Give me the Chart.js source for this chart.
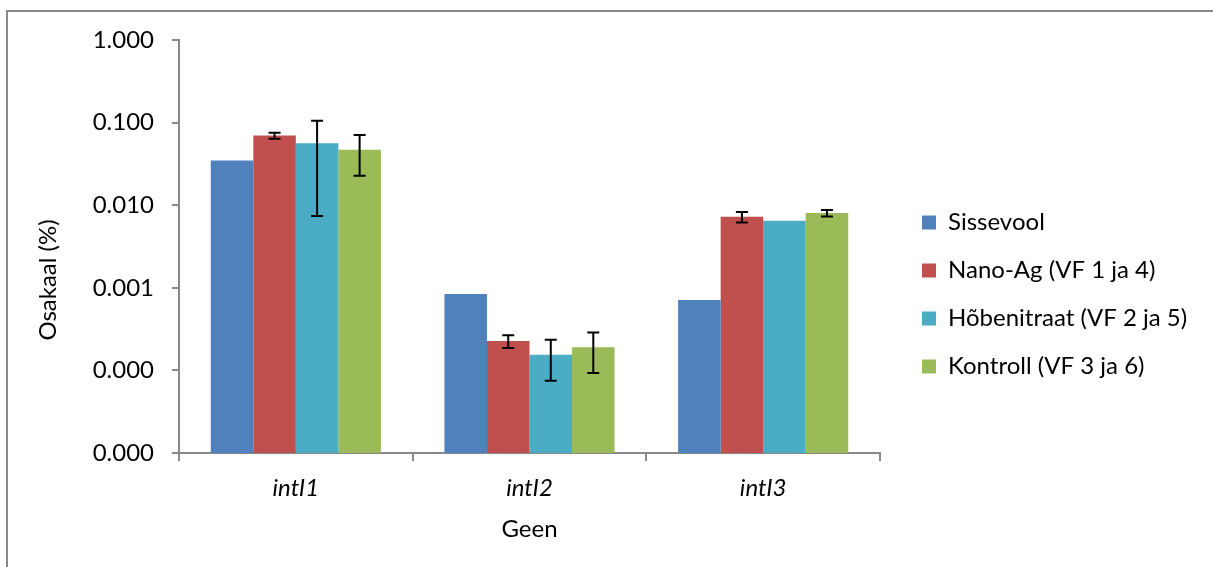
<!DOCTYPE html>
<html>
<head>
<meta charset="utf-8">
<script src="https://cdn.jsdelivr.net/npm/chart.js@4.4.1/dist/chart.umd.min.js"></script>
<style>
html,body{margin:0;padding:0;background:#fff;overflow:hidden;}
#wrap{position:relative;width:1213px;height:567px;overflow:hidden;}
#frame{position:absolute;left:6px;top:10px;width:1300px;height:700px;border-left:2px solid #898989;border-top:2px solid #898989;}
canvas{position:absolute;left:0;top:0;}
</style>
</head>
<body>
<div id="wrap"><div id="frame"></div><canvas id="chart" width="1213" height="567"></canvas></div>
<script>
// data (log scale)
const genes = ["intI1", "intI2", "intI3"];
const seriesNames = ["Sissevool", "Nano-Ag (VF 1 ja 4)", "Hõbenitraat (VF 2 ja 5)", "Kontroll (VF 3 ja 6)"];
const sissevool = [0.0347, 0.00084, 0.00071];
const nanoAg = [0.0696, 0.000227, 0.00724];
const hobenitraat = [0.0564, 0.000155, 0.00648];
const kontroll = [0.0468, 0.00019, 0.00802];
// +/- error
const sissevoolErr = [null, null, null];
const nanoAgErr = [0.0058, 0.00004, 0.00106];
const hobenitraatErr = [0.049, 0.00008, null];
const kontrollErr = [0.024, 0.000097, 0.0007];
const yTicks = [0.00001, 0.0001, 0.001, 0.01, 0.1, 1];
const yTickLabels = ["0.000", "0.000", "0.001", "0.010", "0.100", "1.000"];
const colors = ["#4F81BD", "#C0504D", "#4BACC6", "#9BBB59"];

const FONT = "Lato";
const SIZE = 24;
const AXIS = "#898989";

// error bars from each dataset's err array
const errorBars = {
    id: "errorBars",
    afterDatasetsDraw(chart){
        const ctx = chart.ctx, y = chart.scales.y;
        ctx.save();
        ctx.strokeStyle = "#000";
        ctx.lineWidth = 2;
        chart.data.datasets.forEach((ds, i)=>{
            chart.getDatasetMeta(i).data.forEach((bar, j)=>{
                const e = ds.err[j];
                if(!e) return;
                const v = ds.data[j];
                const top = y.getPixelForValue(v + e), bot = y.getPixelForValue(v - e);
                const x = bar.x;
                ctx.beginPath();
                ctx.moveTo(x, top); ctx.lineTo(x, bot);
                ctx.moveTo(x - 6, top); ctx.lineTo(x + 6, top);
                ctx.moveTo(x - 6, bot); ctx.lineTo(x + 6, bot);
                ctx.stroke();
            });
        });
        ctx.restore();
    }
};

// y axis title, placed like the original (not centred on the plot)
const yTitle = {
    id: "yTitle",
    afterDraw(chart){
        const ctx = chart.ctx;
        ctx.save();
        ctx.translate(48, 280);
        ctx.rotate(-Math.PI / 2);
        ctx.font = SIZE + "px " + FONT;
        ctx.fillStyle = "#000";
        ctx.textAlign = "center";
        ctx.textBaseline = "middle";
        ctx.fillText("Osakaal (%)", 0, 0);
        ctx.restore();
    }
};

function draw(){
    const series = [sissevool, nanoAg, hobenitraat, kontroll];
    const errs = [sissevoolErr, nanoAgErr, hobenitraatErr, kontrollErr];
    new Chart(document.getElementById("chart"), {
        type: "bar",
        data: {
            labels: genes,
            datasets: series.map((d, i)=>({label: seriesNames[i], data: d, err: errs[i], backgroundColor: colors[i], borderWidth: 0}))
        },
        options: {
            responsive: false,
            animation: false,
            layout: {padding: {left: 0, right: 25, top: 40, bottom: 18}},
            datasets: {bar: {categoryPercentage: 0.728, barPercentage: 1}},
            plugins: {
                legend: {position: "right", maxWidth: 290,
                    labels: {boxWidth: 14, boxHeight: 14, padding: 24, color: "#000", font: {family: FONT, size: SIZE}}},
                tooltip: {enabled: false}
            },
            scales: {
                x: {
                    grid: {offset: true, drawOnChartArea: false, tickLength: 8, color: AXIS, lineWidth: 2},
                    border: {color: AXIS, width: 2},
                    ticks: {color: "#000", padding: 13, font: {family: FONT, size: SIZE, style: "italic"}},
                    title: {display: true, text: "Geen", color: "#000", font: {family: FONT, size: SIZE}, padding: {top: 0, bottom: 5}},
                    afterFit(s){ s.height = 96; }
                },
                y: {
                    type: "logarithmic", min: yTicks[0], max: yTicks[yTicks.length - 1],
                    grid: {drawOnChartArea: false, tickLength: 7, color: AXIS, lineWidth: 2},
                    border: {color: AXIS, width: 2},
                    ticks: {color: "#000", padding: 18, font: {family: FONT, size: SIZE}, callback: (v, i)=>yTickLabels[i]},
                    afterBuildTicks(s){ s.ticks = yTicks.map(v=>({value: v})); },
                    afterFit(s){ s.width = 179; }
                },
                // empty spacer between plot and legend
                gap: {position: "right", display: true, grid: {display: false}, border: {display: false}, ticks: {display: false},
                    afterFit(s){ s.width = 18; }}
            }
        },
        plugins: [errorBars, yTitle]
    });
}

Promise.all([document.fonts.load(SIZE + "px Lato"), document.fonts.load("italic " + SIZE + "px Lato")]).then(draw, draw);
</script>
</body>
</html>
